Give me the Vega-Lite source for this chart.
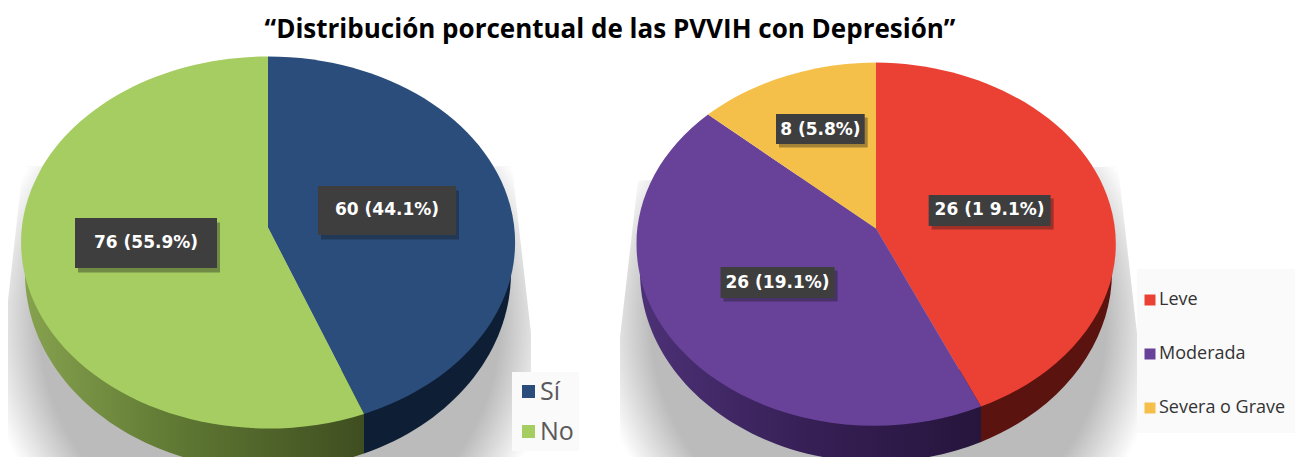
{"$schema":"https://vega.github.io/schema/vega-lite/v6.json","width":1302,"height":457,"padding":0,"autosize":{"type":"none"},"background":"white","config":{"view":{"stroke":null}},"title":{"text":"“Distribución porcentual de las PVVIH con Depresión”","font":"Open Sans","fontSize":26,"fontWeight":"bold","color":"#000000","anchor":"middle","frame":"group","dx":-41,"offset":-64,"baseline":"alphabetic"},"data":{"values":[{"grupo":"Depresión","categoria":"Sí","n":60,"pct":44.1,"etiqueta":"60 (44.1%)"},{"grupo":"Depresión","categoria":"No","n":76,"pct":55.9,"etiqueta":"76 (55.9%)"},{"grupo":"Severidad","categoria":"Leve","n":26,"pct":19.1,"etiqueta":"26 (1 9.1%)"},{"grupo":"Severidad","categoria":"Moderada","n":26,"pct":19.1,"etiqueta":"26 (19.1%)"},{"grupo":"Severidad","categoria":"Severa o Grave","n":8,"pct":5.8,"etiqueta":"8 (5.8%)"}]},"encoding":{"x":{"field":"grupo","type":"nominal","axis":null,"scale":{"type":"point","domain":["Depresión","Severidad"],"range":[268,876],"padding":0}}},"resolve":{"scale":{"color":"independent","shape":"independent"},"legend":{"color":"independent"}},"layer":[{"transform":[{"filter":"datum.categoria==='Sí'||datum.categoria==='Leve'"}],"mark":{"type":"point","filled":true,"size":4,"opacity":1,"fill":{"gradient":"radial","x1":0.5,"y1":0.52,"r1":0,"x2":0.5,"y2":0.52,"r2":0.55,"stops":[{"offset":0,"color":"#bbbbbb"},{"offset":0.8,"color":"#bbbbbb"},{"offset":1,"color":"#ffffff"}]}},"encoding":{"shape":{"field":"grupo","type":"nominal","legend":null,"scale":{"domain":["Depresión","Severidad"],"range":["M-245,-62 L-260,72 L-260,229 L263,229 L263,105 L244,-62 Z","M-238,-48 L-256,109 L-256,229 L261,229 L261,105 L242,-62 Z"]}}}},{"transform":[{"filter":"datum.categoria==='No'"}],"mark":{"type":"point","filled":true,"size":4,"opacity":1,"fill":{"gradient":"linear","x1":0,"y1":0,"x2":1,"y2":0,"stops":[{"offset":0,"color":"#86a24e"},{"offset":0.45,"color":"#5f7833"},{"offset":1,"color":"#3f4e20"}]}},"encoding":{"shape":{"field":"etiqueta","type":"nominal","legend":null,"scale":{"domain":["76 (55.9%)"],"range":["M-243,43 A243,197 0 0 0 96,225 L96,150 L-240,15 Z"]}}}},{"transform":[{"filter":"datum.categoria==='Moderada'"}],"mark":{"type":"point","filled":true,"size":4,"opacity":1,"fill":{"gradient":"linear","x1":0,"y1":0,"x2":1,"y2":0,"stops":[{"offset":0,"color":"#4c3176"},{"offset":0.5,"color":"#361f55"},{"offset":1,"color":"#26153c"}]}},"encoding":{"shape":{"field":"etiqueta","type":"nominal","legend":null,"scale":{"domain":["26 (19.1%)"],"range":["M-236,43 A236,190 0 0 0 105,213.5 L105,150 L-233,15 Z"]}}}},{"transform":[{"filter":"datum.categoria==='Sí'||datum.categoria==='Leve'"}],"mark":{"type":"point","filled":true,"size":4,"opacity":1},"encoding":{"color":{"field":"categoria","type":"nominal","legend":null,"scale":{"domain":["Sí","Leve"],"range":["#0e1f35","#5a130e"]}},"shape":{"field":"etiqueta","type":"nominal","legend":null,"scale":{"domain":["60 (44.1%)","26 (1 9.1%)"],"range":["M96,150 L96,225 A243,197 0 0 0 243,43 L240,15 Z","M105,150 L105,213.5 A236,190 0 0 0 236,43 L233,15 Z"]}}}},{"transform":[{"filter":"datum.grupo==='Depresión'"}],"mark":{"type":"point","filled":true,"size":4,"opacity":1},"encoding":{"color":{"field":"categoria","type":"nominal","scale":{"domain":["Sí","No"],"range":["#2a4d7b","#a5cd61"]},"legend":{"title":null,"orient":"none","legendX":516,"legendY":379,"padding":0,"symbolType":"square","symbolSize":169,"symbolStrokeWidth":0,"labelFont":"Open Sans","labelFontSize":25,"labelColor":"#595959","labelOffset":-1,"rowPadding":14}},"shape":{"field":"etiqueta","type":"nominal","legend":null,"scale":{"domain":["60 (44.1%)","76 (55.9%)"],"range":["M0,-1 L0,-172 A247,186 0 0 1 96,185.4 Z","M0,-1 L96,185.4 A247,186 0 1 1 0,-172 Z"]}}}},{"transform":[{"filter":"datum.grupo==='Severidad'"}],"mark":{"type":"point","filled":true,"size":4,"opacity":1},"encoding":{"color":{"field":"categoria","type":"nominal","scale":{"domain":["Leve","Moderada","Severa o Grave"],"range":["#eb4034","#684299","#f5c04a"]},"legend":{"title":null,"orient":"none","legendX":1141,"legendY":291,"padding":0,"symbolType":"square","symbolSize":121,"symbolStrokeWidth":0,"labelFont":"Open Sans","labelFontSize":18,"labelColor":"#333333","labelOffset":0,"rowPadding":36}},"shape":{"field":"etiqueta","type":"nominal","legend":null,"scale":{"domain":["26 (1 9.1%)","26 (19.1%)","8 (5.8%)"],"range":["M0,0 L0,-166 A243,181.5 0 0 1 105,178 Z","M0,0 L105,178 A238,181.5 0 0 1 -168,-114 Z","M0,0 L-168,-114 A242,181.5 0 0 1 0,-166 Z"]}}}},{"transform":[{"filter":"datum.categoria==='Sí'||datum.categoria==='Leve'"}],"mark":{"type":"point","filled":true,"size":4,"opacity":1,"fill":"#fafafa"},"encoding":{"shape":{"field":"grupo","type":"nominal","legend":null,"scale":{"domain":["Depresión","Severidad"],"range":["M244,143.5 L311,143.5 L311,222.5 L244,222.5 Z","M261,40.5 L419,40.5 L419,204.5 L261,204.5 Z"]}}}},{"mark":{"type":"point","filled":true,"size":4,"opacity":0.35,"fill":"#111111"},"encoding":{"shape":{"field":"etiqueta","type":"nominal","legend":null,"scale":{"domain":["60 (44.1%)","76 (55.9%)","26 (1 9.1%)","26 (19.1%)","8 (5.8%)"],"range":["M53,-38 L191,-38 L191,11 L53,11 Z","M-190,-6 L-48,-6 L-48,44 L-190,44 Z","M55.7,-30 L177.6,-30 L177.6,1 L55.7,1 Z","M-152.5,42 L-38.4,42 L-38.4,73 L-152.5,73 Z","M-97,-111 L-8.3,-111 L-8.3,-81 L-97,-81 Z"]}}}},{"mark":{"type":"point","filled":true,"size":4,"opacity":1,"fill":"#3e3e3e"},"encoding":{"shape":{"field":"etiqueta","type":"nominal","legend":null,"scale":{"domain":["60 (44.1%)","76 (55.9%)","26 (1 9.1%)","26 (19.1%)","8 (5.8%)"],"range":["M50,-42.5 L188,-42.5 L188,6.5 L50,6.5 Z","M-193,-10.5 L-51,-10.5 L-51,39.5 L-193,39.5 Z","M52.7,-33.5 L174.6,-33.5 L174.6,-2.5 L52.7,-2.5 Z","M-155.5,38.5 L-41.4,38.5 L-41.4,69.5 L-155.5,69.5 Z","M-100,-114.5 L-11.3,-114.5 L-11.3,-84.5 L-100,-84.5 Z"]}}}},{"transform":[{"filter":"datum.categoria==='Sí'"}],"mark":{"type":"text","font":"DejaVu Sans","fontWeight":"bold","fontSize":17,"color":"#ffffff","baseline":"middle","align":"center","dx":119,"dy":-19},"encoding":{"text":{"field":"etiqueta"}}},{"transform":[{"filter":"datum.categoria==='No'"}],"mark":{"type":"text","font":"DejaVu Sans","fontWeight":"bold","fontSize":17,"color":"#ffffff","baseline":"middle","align":"center","dx":-122,"dy":14},"encoding":{"text":{"field":"etiqueta"}}},{"transform":[{"filter":"datum.categoria==='Leve'"}],"mark":{"type":"text","font":"DejaVu Sans","fontWeight":"bold","fontSize":17,"color":"#ffffff","baseline":"middle","align":"center","dx":113.6,"dy":-19},"encoding":{"text":{"field":"etiqueta"}}},{"transform":[{"filter":"datum.categoria==='Moderada'"}],"mark":{"type":"text","font":"DejaVu Sans","fontWeight":"bold","fontSize":17,"color":"#ffffff","baseline":"middle","align":"center","dx":-98.5,"dy":54},"encoding":{"text":{"field":"etiqueta"}}},{"transform":[{"filter":"datum.categoria==='Severa o Grave'"}],"mark":{"type":"text","font":"DejaVu Sans","fontWeight":"bold","fontSize":17,"color":"#ffffff","baseline":"middle","align":"center","dx":-55.6,"dy":-99},"encoding":{"text":{"field":"etiqueta"}}}]}
